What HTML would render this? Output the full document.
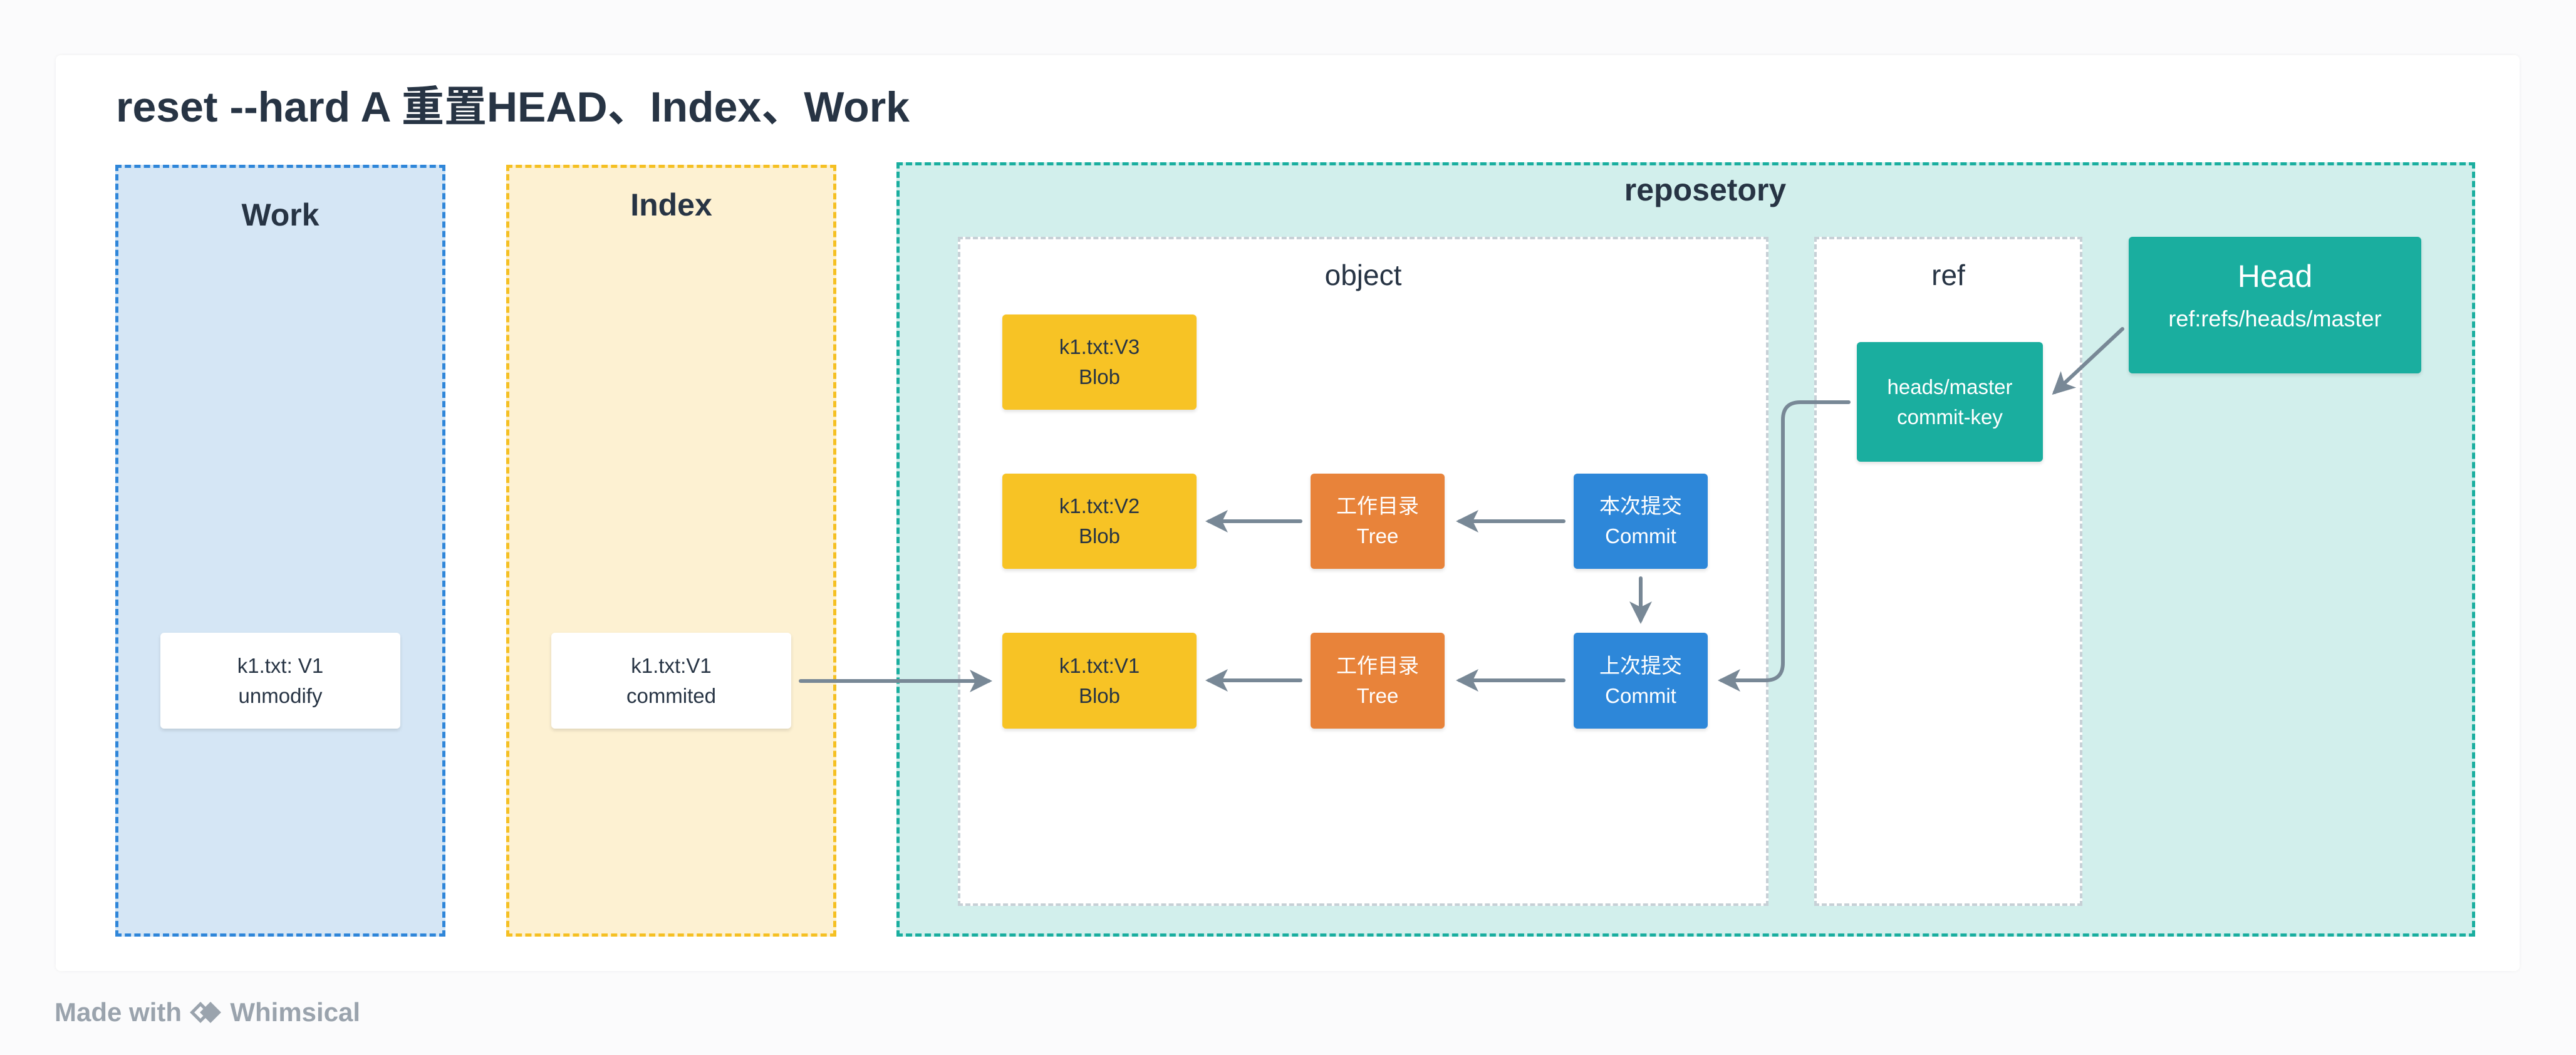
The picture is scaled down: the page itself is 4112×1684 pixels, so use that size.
<!DOCTYPE html>
<html><head><meta charset="utf-8"><style>
*{margin:0;padding:0;box-sizing:border-box}
body{width:4112px;height:1684px;background:#fbfbfc;position:relative;overflow:hidden;font-family:"Liberation Sans","Noto Sans CJK SC",sans-serif;color:#273444}
.a{position:absolute}
.card{left:89px;top:88px;width:3933px;height:1462px;background:#fff;border-radius:8px;box-shadow:0 0 6px rgba(0,0,0,0.06)}
.zone{position:absolute;border:5px dashed}
.lbl{position:absolute;left:0;right:0;text-align:center;font-weight:bold;font-size:50px}
.node{position:absolute;display:flex;flex-direction:column;align-items:center;justify-content:center;font-size:33px;line-height:48px;border-radius:6px;text-align:center;box-shadow:0 3px 6px rgba(0,0,0,0.12)}
.w{background:#fff;color:#273444}
.y{background:#f7c325;color:#273444}
.o{background:#e8833a;color:#fff}
.b{background:#2d87d9;color:#fff}
.t{background:#1aae9f;color:#fff}
.sub{position:absolute;background:#fff;border:4px dashed #c7d0d6;}
</style></head><body>
<div class="a card"></div>
<div class="a" style="left:185px;top:115px;font-size:68px;font-weight:bold;white-space:nowrap">reset --hard A 重置HEAD、Index、Work</div>

<div class="zone" style="left:184px;top:263px;width:527px;height:1232px;background:#d5e6f5;border-color:#2f86d9"><div class="lbl" style="top:46px">Work</div></div>
<div class="zone" style="left:808px;top:263px;width:527px;height:1232px;background:#fdf1d2;border-color:#f5c023"><div class="lbl" style="top:30px">Index</div></div>
<div class="zone" style="left:1431px;top:259px;width:2520px;height:1236px;background:#d2efec;border-color:#1aae9f"><div class="lbl" style="top:10px;right:auto;width:2572px">reposetory</div></div>

<div class="sub" style="left:1529px;top:378px;width:1294px;height:1068px"><div class="a" style="left:0;right:0;top:30px;text-align:center;font-size:46px">object</div></div>
<div class="sub" style="left:2896px;top:378px;width:428px;height:1068px"><div class="a" style="left:0;right:0;top:30px;text-align:center;font-size:46px">ref</div></div>

<div class="node w" style="left:256px;top:1010px;width:383px;height:153px"><div>k1.txt: V1</div><div>unmodify</div></div>
<div class="node w" style="left:880px;top:1010px;width:383px;height:153px"><div>k1.txt:V1</div><div>commited</div></div>

<div class="node y" style="left:1600px;top:502px;width:310px;height:152px"><div>k1.txt:V3</div><div>Blob</div></div>
<div class="node y" style="left:1600px;top:756px;width:310px;height:152px"><div>k1.txt:V2</div><div>Blob</div></div>
<div class="node y" style="left:1600px;top:1010px;width:310px;height:153px"><div>k1.txt:V1</div><div>Blob</div></div>
<div class="node o" style="left:2092px;top:756px;width:214px;height:152px"><div>工作目录</div><div>Tree</div></div>
<div class="node o" style="left:2092px;top:1010px;width:214px;height:153px"><div>工作目录</div><div>Tree</div></div>
<div class="node b" style="left:2512px;top:756px;width:214px;height:152px"><div>本次提交</div><div>Commit</div></div>
<div class="node b" style="left:2512px;top:1010px;width:214px;height:153px"><div>上次提交</div><div>Commit</div></div>
<div class="node t" style="left:2964px;top:546px;width:297px;height:191px"><div>heads/master</div><div>commit-key</div></div>
<div class="node t" style="left:3398px;top:378px;width:467px;height:218px;justify-content:flex-start;padding-top:28px"><div style="font-size:50px;line-height:70px">Head</div><div style="font-size:36px;line-height:66px">ref:refs/heads/master</div></div>

<svg class="a" style="left:0;top:0" width="4112" height="1684">
<defs><marker id="m" markerWidth="6" markerHeight="6" refX="5" refY="3" orient="auto" markerUnits="strokeWidth"><path d="M0,0 L6,3 L0,6 L1.5,3 Z" fill="#788896"/></marker></defs>
<g stroke="#788896" stroke-width="6" fill="none" stroke-linecap="round" marker-end="url(#m)">
<line x1="1278" y1="1087" x2="1578" y2="1087"/>
<line x1="2496" y1="832" x2="2330" y2="832"/>
<line x1="2076" y1="832" x2="1930" y2="832"/>
<line x1="2496" y1="1086" x2="2330" y2="1086"/>
<line x1="2076" y1="1086" x2="1930" y2="1086"/>
<line x1="2619" y1="923" x2="2619" y2="990"/>
<path d="M2951,642 L2874,642 Q2846,642 2846,670 L2846,1058 Q2846,1086 2818,1086 L2748,1086"/>
<line x1="3388" y1="525" x2="3280" y2="626"/>
</g>
</svg>

<div class="a" style="left:87px;top:1592px;font-size:42px;font-weight:bold;color:#9aa3ad;white-space:nowrap">Made with <span style="display:inline-block;width:54px;height:30px;position:relative;vertical-align:-2px"><span style="position:absolute;left:6px;top:2px;width:24px;height:24px;border:5px solid #9aa3ad;transform:rotate(45deg)"></span><span style="position:absolute;left:22px;top:2px;width:24px;height:24px;background:#9aa3ad;transform:rotate(45deg)"></span></span> Whimsical</div>
</body></html>
